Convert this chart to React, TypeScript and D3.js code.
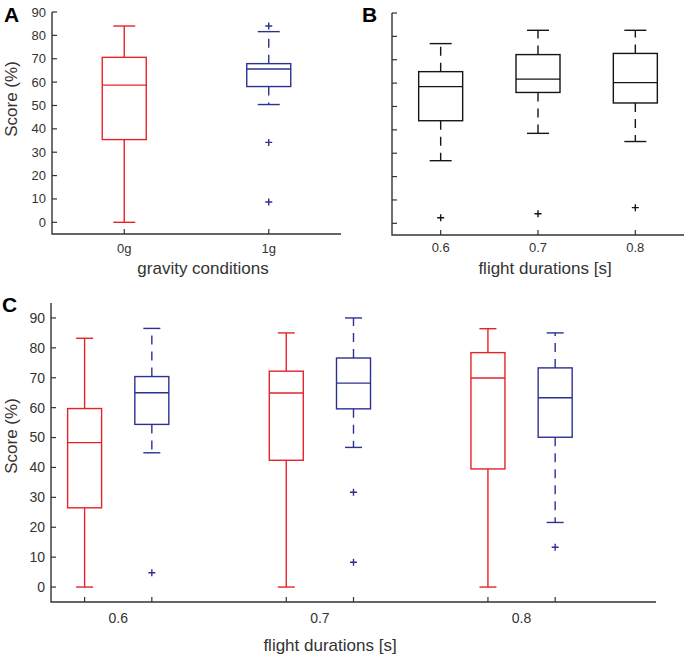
import React from "react";
import * as d3 from "d3";

const FONT = "'Liberation Sans', Arial, Helvetica, sans-serif";
const AXIS = "#333333";
const TEXT = "#333333";
const RED = "#e5232b";
const BLUE = "#2e3192";
const BLACK = "#151515";

// A: score by gravity condition
const gravityLabels = ["0g", "1g"];
const gravityLo = [0, 50.4];
const gravityQ1 = [35.4, 58.1];
const gravityMed = [58.7, 65.6];
const gravityQ3 = [70.6, 67.9];
const gravityHi = [84, 81.6];
const gravityOut = [[], [84, 34.2, 8.7]];

// B: score by flight duration (both conditions)
const durationLabels = ["0.6", "0.7", "0.8"];
const durationLo = [26.8, 38.5, 35];
const durationQ1 = [43.9, 56, 51.5];
const durationMed = [58.5, 61.7, 60.2];
const durationQ3 = [64.9, 72.2, 72.7];
const durationHi = [76.9, 82.6, 82.6];
const durationOut = [[2.4], [4.1], [6.7]];

// C: 0g (red) and 1g (blue) per flight duration
const zeroGLo = [0, 0, 0];
const zeroGQ1 = [26.5, 42.4, 39.5];
const zeroGMed = [48.3, 64.9, 69.9];
const zeroGQ3 = [59.7, 72.2, 78.4];
const zeroGHi = [83.2, 85, 86.4];
const zeroGOut = [[], [], []];
const oneGLo = [44.9, 46.7, 21.6];
const oneGQ1 = [54.4, 59.6, 50.1];
const oneGMed = [65, 68.2, 63.3];
const oneGQ3 = [70.4, 76.6, 73.3];
const oneGHi = [86.5, 90, 85];
const oneGOut = [[4.8], [31.7, 8.3], [13.3]];

const yTicks = d3.range(0, 91, 10);

type Box = {
  pos: number;
  lo: number;
  q1: number;
  med: number;
  q3: number;
  hi: number;
  out: number[];
  color: string;
  dashed: boolean;
};

const BoxMark = ({ b, x, y, w }) => {
  const cx = x(b.pos);
  const dash = b.dashed ? "9 7" : undefined;
  const sw = 1.4;
  return (
    <g stroke={b.color} strokeWidth={sw} fill="none">
      <line x1={cx} x2={cx} y1={y(b.q3)} y2={y(b.hi)} strokeDasharray={dash} />
      <line x1={cx} x2={cx} y1={y(b.q1)} y2={y(b.lo)} strokeDasharray={dash} />
      <line x1={cx - w / 4} x2={cx + w / 4} y1={y(b.hi)} y2={y(b.hi)} />
      <line x1={cx - w / 4} x2={cx + w / 4} y1={y(b.lo)} y2={y(b.lo)} />
      <rect x={cx - w / 2} y={y(b.q3)} width={w} height={y(b.q1) - y(b.q3)} />
      <line x1={cx - w / 2} x2={cx + w / 2} y1={y(b.med)} y2={y(b.med)} />
      {b.out.map((o, i) => (
        <path key={i} d={`M${cx - 3.5},${y(o)}h7M${cx},${y(o) - 3.5}v7`} />
      ))}
    </g>
  );
};

const Panel = ({ x, y, boxes, w, labels, labelPos, tickFont, showYLabels, xLabel, xLabelX, xLabelY, tickLabelY, yLabelPos, letter, letterPos }) => {
  const [x0, x1] = x.range();
  const [yb, yt] = y.range();
  return (
    <g fontFamily={FONT} fill={TEXT}>
      <path d={`M${x0},${yt}V${yb}H${x1}`} stroke={AXIS} strokeWidth={1.4} fill="none" />
      {yTicks.map(t => (
        <g key={t}>
          <line x1={x0} x2={x0 + 5} y1={y(t)} y2={y(t)} stroke={AXIS} strokeWidth={1.2} />
          {showYLabels && (
            <text x={x0 - 6} y={y(t)} dy="0.35em" textAnchor="end" fontSize={tickFont}>{t}</text>
          )}
        </g>
      ))}
      {boxes.map((b, i) => (
        <line key={i} x1={x(b.pos)} x2={x(b.pos)} y1={yb} y2={yb - 5} stroke={AXIS} strokeWidth={1.2} />
      ))}
      {labels.map((l, i) => (
        <text key={l} x={x(labelPos[i])} y={tickLabelY} textAnchor="middle" fontSize={tickFont}>{l}</text>
      ))}
      <text x={xLabelX} y={xLabelY} textAnchor="middle" fontSize={17}>{xLabel}</text>
      {yLabelPos && (
        <text transform={`translate(${yLabelPos[0]},${yLabelPos[1]}) rotate(-90)`} textAnchor="middle" dy="0.35em" fontSize={17}>Score (%)</text>
      )}
      <text x={letterPos[0]} y={letterPos[1]} fontSize={21} fontWeight="bold" fill="#000">{letter}</text>
      {boxes.map((b, i) => (
        <BoxMark key={i} b={b} x={x} y={y} w={w} />
      ))}
    </g>
  );
};

const makeBoxes = (pos, lo, q1, med, q3, hi, out, color, dashed): Box[] =>
  pos.map((p, i) => ({ pos: p, lo: lo[i], q1: q1[i], med: med[i], q3: q3[i], hi: hi[i], out: out[i], color, dashed }));

const App = () => {
  const xA = d3.scaleLinear().domain([0.5, 2.5]).range([52, 341]);
  const yA = d3.scaleLinear().domain([-5, 90]).range([234, 12]);
  const boxesA = [
    ...makeBoxes([1], [gravityLo[0]], [gravityQ1[0]], [gravityMed[0]], [gravityQ3[0]], [gravityHi[0]], [gravityOut[0]], RED, false),
    ...makeBoxes([2], [gravityLo[1]], [gravityQ1[1]], [gravityMed[1]], [gravityQ3[1]], [gravityHi[1]], [gravityOut[1]], BLUE, true),
  ];

  const xB = d3.scaleLinear().domain([0.5, 3.5]).range([392, 684]);
  const yB = d3.scaleLinear().domain([-5, 90]).range([235, 13]);
  const boxesB = makeBoxes([1, 2, 3], durationLo, durationQ1, durationMed, durationQ3, durationHi, durationOut, BLACK, true);

  const xC = d3.scaleLinear().domain([0.5, 9.5]).range([51, 656]);
  const yC = d3.scaleLinear().domain([-5, 95]).range([602, 303]);
  const boxesC = [
    ...makeBoxes([1, 4, 7], zeroGLo, zeroGQ1, zeroGMed, zeroGQ3, zeroGHi, zeroGOut, RED, false),
    ...makeBoxes([2, 5, 8], oneGLo, oneGQ1, oneGMed, oneGQ3, oneGHi, oneGOut, BLUE, true),
  ];

  return (
    <svg width={684} height={656} style={{ position: "absolute", left: 0, top: 0, background: "#fff" }}>
      <Panel x={xA} y={yA} boxes={boxesA} w={44} labels={gravityLabels} labelPos={[1, 2]} tickFont={13}
        showYLabels xLabel="gravity conditions" xLabelX={203} xLabelY={274} tickLabelY={253}
        yLabelPos={[11, 99]} letter="A" letterPos={[4, 22]} />
      <Panel x={xB} y={yB} boxes={boxesB} w={44} labels={durationLabels} labelPos={[1, 2, 3]} tickFont={13}
        showYLabels={false} xLabel="flight durations [s]" xLabelX={545} xLabelY={274} tickLabelY={252}
        yLabelPos={null} letter="B" letterPos={[362, 22]} />
      <Panel x={xC} y={yC} boxes={boxesC} w={34} labels={durationLabels} labelPos={[1.5, 4.5, 7.5]} tickFont={14}
        showYLabels xLabel="flight durations [s]" xLabelX={330} xLabelY={651} tickLabelY={623}
        yLabelPos={[11, 436]} letter="C" letterPos={[2, 312]} />
    </svg>
  );
};

export default App;
